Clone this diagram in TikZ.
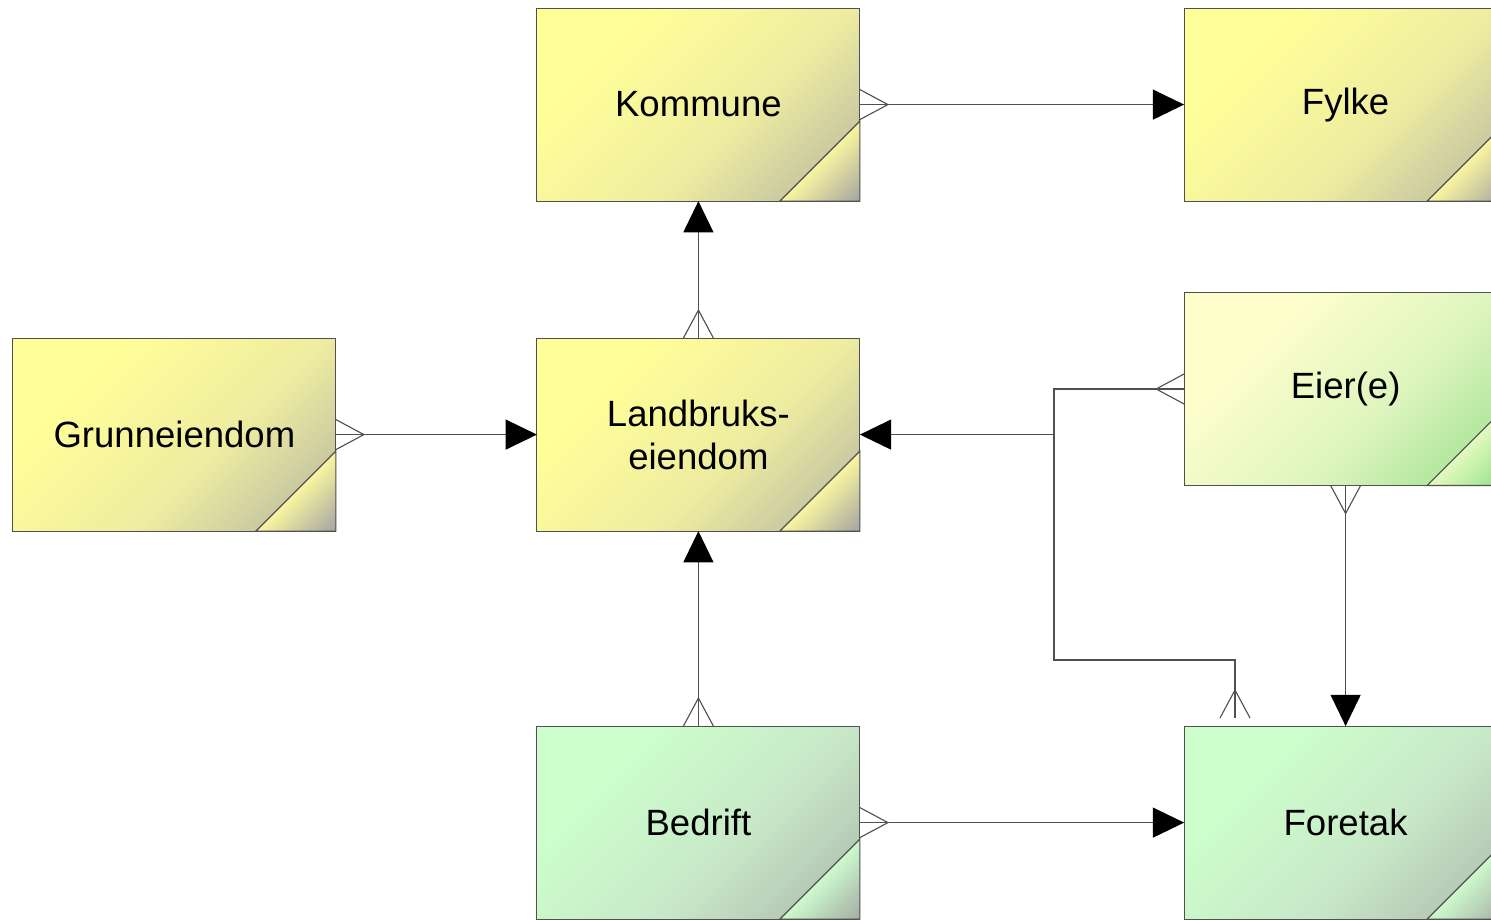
\documentclass[tikz,border=0pt]{standalone}
\usepackage{fontspec}
\setmainfont{Liberation Sans}
\usetikzlibrary{arrows.meta}

\definecolor{lineGrey}{HTML}{505050}
% box fills and their folded corners
\pgfdeclarehorizontalshading{yelBox}{100bp}{color(0bp)=(rgb,255:red,255;green,255;blue,153); color(30bp)=(rgb,255:red,255;green,255;blue,153); color(58bp)=(rgb,255:red,238;green,236;blue,160); color(85bp)=(rgb,255:red,180;green,180;blue,162); color(100bp)=(rgb,255:red,180;green,180;blue,162)}
\pgfdeclarehorizontalshading{yelCorner}{100bp}{color(0bp)=(rgb,255:red,250;green,245;blue,160); color(50bp)=(rgb,255:red,250;green,245;blue,160); color(85bp)=(rgb,255:red,165;green,165;blue,162); color(100bp)=(rgb,255:red,165;green,165;blue,162)}
\pgfdeclarehorizontalshading{grnBox}{100bp}{color(0bp)=(rgb,255:red,204;green,255;blue,204); color(30bp)=(rgb,255:red,204;green,255;blue,204); color(58bp)=(rgb,255:red,200;green,232;blue,200); color(85bp)=(rgb,255:red,172;green,184;blue,172); color(100bp)=(rgb,255:red,172;green,184;blue,172)}
\pgfdeclarehorizontalshading{grnCorner}{100bp}{color(0bp)=(rgb,255:red,204;green,250;blue,204); color(50bp)=(rgb,255:red,204;green,250;blue,204); color(85bp)=(rgb,255:red,165;green,172;blue,165); color(100bp)=(rgb,255:red,165;green,172;blue,165)}
\pgfdeclarehorizontalshading{eierBox}{100bp}{color(0bp)=(rgb,255:red,255;green,255;blue,204); color(30bp)=(rgb,255:red,255;green,255;blue,204); color(58bp)=(rgb,255:red,222;green,245;blue,190); color(85bp)=(rgb,255:red,150;green,225;blue,140); color(100bp)=(rgb,255:red,150;green,225;blue,140)}
\pgfdeclarehorizontalshading{eierCorner}{100bp}{color(0bp)=(rgb,255:red,228;green,250;blue,190); color(50bp)=(rgb,255:red,228;green,250;blue,190); color(85bp)=(rgb,255:red,145;green,222;blue,135); color(100bp)=(rgb,255:red,145;green,222;blue,135)}

% crow's foot, the middle line runs on to the box
\pgfdeclarearrow{
  name = Crow,
  parameters = {\the\pgfarrowlength,\the\pgfarrowwidth},
  setup code = {
    \pgfarrowssettipend{0pt}
    \pgfarrowssetlineend{0pt}
    \pgfarrowssetbackend{-\pgfarrowlength}
    \pgfarrowssavethe\pgfarrowlength
    \pgfarrowssavethe\pgfarrowwidth
  },
  drawing code = {
    \pgfsetdash{}{0pt}
    \pgfpathmoveto{\pgfqpoint{0pt}{.5\pgfarrowwidth}}
    \pgfpathlineto{\pgfqpoint{-\pgfarrowlength}{0pt}}
    \pgfpathlineto{\pgfqpoint{0pt}{-.5\pgfarrowwidth}}
    \pgfusepathqstroke
  },
  defaults = {length = 0.7cm, width = 0.75cm}
}

\tikzset{
  crow/.tip={Crow[length=0.7cm,width=0.75cm]},
  head/.tip={Triangle[length=0.78cm,width=0.75cm,black]},
}

\begin{document}
\begin{tikzpicture}[line width=0.8pt,
  entity/.style={draw=lineGrey, outer sep=0pt, minimum width=8.075cm, minimum height=4.825cm, align=center,
    font=\fontsize{26}{30.5}\selectfont, shading=#1, shading angle=-45},
  link/.style={draw=lineGrey}]
\clip (0,0) rectangle (37.275,22.975);

% entities
\node[entity=yelBox] (kommune) at (17.46,20.36) {Kommune};
\node[entity=yelBox] (fylke) at (33.64,20.36) {Fylke};
\node[entity=yelBox] (grunn) at (4.36,12.11) {Grunneiendom};
\node[entity=yelBox] (landbruk) at (17.46,12.11) {Landbruks-\\eiendom};
\node[entity=eierBox] (eier) at (33.64,13.25) {Eier(e)};
\node[entity=grnBox] (bedrift) at (17.46,2.41) {Bedrift};
\node[entity=grnBox] (foretak) at (33.64,2.41) {Foretak};

% folded corners
\foreach \n/\s in {kommune/yelCorner, fylke/yelCorner, grunn/yelCorner, landbruk/yelCorner,
                   eier/eierCorner, bedrift/grnCorner, foretak/grnCorner} {
  \fill[shading=\s, shading angle=-45] (\n.south east) -- ++(-2,0) -- ++(2,2) -- cycle;
  \draw[lineGrey] (\n.south east) -- ++(-2,0) -- ++(2,2) -- cycle;
}

% corners of the Eier(e) line
\coordinate (jn) at (26.35,12.11);
\coordinate (bend) at (30.875,6.475);
\coordinate (fe) at (30.875,5.025);

% relations
\draw[link, {crow}-{head}] (kommune) -- (fylke);
\draw[link, {crow}-{head}] (landbruk) -- (kommune);
\draw[link, {crow}-{head}] (grunn) -- (landbruk);
\draw[link, {crow}-{head}] (bedrift) -- (landbruk);
\draw[link, {crow}-{head}] (bedrift) -- (foretak);
\draw[link, {crow}-{head}] (eier) -- (foretak);
\draw[link, {crow}-{crow}] (eier.west) -| (jn) |- (bend) -- (fe);
\draw[link, -{head}] (jn) -- (landbruk);
\end{tikzpicture}
\end{document}
